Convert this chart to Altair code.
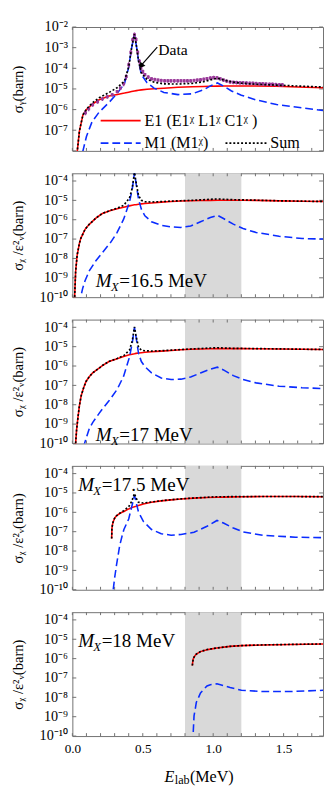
import altair as alt
import pandas as pd

# ---------------- data ----------------
X_DOMAIN = [0.0, 1.78]
X_LABELS = [0.0, 0.5, 1.0, 1.5]
X_TICKS = [0.0, 0.1, 0.2, 0.3, 0.4, 0.5, 0.6, 0.7, 0.8, 0.9, 1.0, 1.1, 1.2, 1.3, 1.4, 1.5, 1.6, 1.7]
BAND_LO, BAND_HI = 0.8, 1.2

# panel 1 : sigma_gamma
P1_E = [0.02, 0.035, 0.05, 0.075, 0.1, 0.14, 0.19, 0.26, 0.32, 0.37, 0.40, 0.42, 0.44, 0.455, 0.47, 0.49,
        0.53, 0.58, 0.65, 0.75, 0.85, 0.93, 0.98, 1.03, 1.08, 1.13, 1.2, 1.3, 1.45, 1.6, 1.78]
P1_E1 = [1e-10, 1e-8, 9e-8, 5.5e-7, 1.0e-6, 1.8e-6, 3.0e-6, 4.5e-6, 5.4e-6, 6.3e-6, 7e-6, 7.5e-6, 8e-6, 8.3e-6,
         8.6e-6, 9e-6, 9.6e-6, 1.02e-5, 1.08e-5, 1.2e-5, 1.28e-5, 1.32e-5, 1.35e-5, 1.37e-5, 1.38e-5, 1.4e-5,
         1.4e-5, 1.4e-5, 1.35e-5, 1.25e-5, 1.15e-5]
P1_M1 = [1e-12, 1e-11, 1e-10, 1e-8, 5e-8, 2.6e-7, 7.5e-7, 2.2e-6, 6.3e-6, 1.8e-5, 1.1e-4, 9e-4, 4.5e-3, 1.2e-3,
         2.2e-4, 5e-5, 2e-5, 1.1e-5, 6.8e-6, 5.3e-6, 5.8e-6, 9e-6, 1.4e-5, 1.95e-5, 1.3e-5, 8e-6, 5e-6, 3.0e-6,
         1.75e-6, 1.3e-6, 9e-7]
P1_SUM = [1e-10, 1e-8, 9e-8, 5.6e-7, 1.05e-6, 2.06e-6, 3.75e-6, 6.7e-6, 1.17e-5, 2.43e-5, 1.17e-4, 9.1e-4,
          4.5e-3, 1.21e-3, 2.29e-4, 5.9e-5, 2.96e-5, 2.12e-5, 1.76e-5, 1.73e-5, 1.86e-5, 2.22e-5, 2.75e-5,
          3.32e-5, 2.68e-5, 2.2e-5, 1.9e-5, 1.7e-5, 1.53e-5, 1.38e-5, 1.24e-5]

DATA_E = [0.093, 0.116, 0.144, 0.179, 0.213, 0.248, 0.283, 0.318, 0.341, 0.364, 0.383, 0.40, 0.415, 0.428,
          0.441, 0.452, 0.464, 0.476, 0.487, 0.50, 0.515, 0.539, 0.562, 0.585, 0.608, 0.631, 0.655, 0.678, 0.70,
          0.724, 0.748, 0.771, 0.794, 0.817, 0.84, 0.864, 0.887, 0.91, 0.933, 0.956, 0.98, 1.003, 1.027, 1.05,
          1.073, 1.096, 1.12, 1.143, 1.166, 1.19, 1.212, 1.236, 1.26, 1.282, 1.305, 1.33, 1.352, 1.375, 1.40,
          1.421, 1.445, 1.47, 1.491]
DATA_V = [7e-7, 1.1e-6, 1.7e-6, 2.4e-6, 3.3e-6, 4.2e-6, 5.3e-6, 7.5e-6, 1.1e-5, 1.8e-5, 4e-5, 1.5e-4, 6e-4,
          2.4e-3, 4.2e-3, 2.5e-3, 6e-4, 2.2e-4, 1.1e-4, 7e-5, 5e-5, 3.8e-5, 3.1e-5, 2.9e-5, 2.7e-5, 2.6e-5,
          2.5e-5, 2.5e-5, 2.5e-5, 2.5e-5, 2.5e-5, 2.5e-5, 2.5e-5, 2.5e-5, 2.5e-5, 2.6e-5, 2.7e-5, 2.8e-5, 3e-5,
          3.2e-5, 3.4e-5, 3.6e-5, 3.5e-5, 3.1e-5, 2.7e-5, 2.4e-5, 2.2e-5, 2.1e-5, 2.05e-5, 2e-5, 2e-5, 1.95e-5,
          1.9e-5, 1.9e-5, 1.85e-5, 1.8e-5, 1.8e-5, 1.75e-5, 1.7e-5, 1.7e-5, 1.65e-5, 1.6e-5, 1.6e-5]
DATA_ERR = [0.25, 0.25, 0.2, 0.2, 0.2, 0.2, 0.2, 0.2, 0.2, 0.25, 0.3, 0.3, 0.3, 0.3, 0.3, 0.3, 0.3, 0.3, 0.3,
            0.25, 0.2, 0.2, 0.2, 0.2, 0.2, 0.2, 0.2, 0.2, 0.2, 0.2, 0.2, 0.2, 0.2, 0.2, 0.2, 0.2, 0.2, 0.2, 0.2,
            0.2, 0.2, 0.2, 0.2, 0.2, 0.2, 0.2, 0.2, 0.2, 0.2, 0.2, 0.2, 0.2, 0.2, 0.2, 0.2, 0.2, 0.2, 0.2, 0.2,
            0.2, 0.2, 0.2, 0.2]

# panel 2 : M_X = 16.5 MeV
P2_E = [0.01, 0.016, 0.023, 0.034, 0.05, 0.06, 0.074, 0.09, 0.12, 0.167, 0.213, 0.272, 0.318, 0.364, 0.405,
        0.425, 0.441, 0.452, 0.47, 0.49, 0.515, 0.562, 0.631, 0.701, 0.771, 0.84, 0.91, 0.98, 1.03, 1.073,
        1.143, 1.212, 1.305, 1.468, 1.631, 1.78]
P2_E1 = [1e-12, 1e-10, 2e-9, 1.5e-8, 6e-8, 1.1e-7, 1.8e-7, 3.2e-7, 5.8e-7, 1.2e-6, 2.1e-6, 3.0e-6, 3.7e-6,
         4.4e-6, 5.2e-6, 5.6e-6, 5.9e-6, 6.0e-6, 6.3e-6, 6.6e-6, 6.9e-6, 7.4e-6, 8.1e-6, 8.7e-6, 9.2e-6, 9.5e-6,
         9.8e-6, 1.0e-5, 1.02e-5, 1.02e-5, 1.02e-5, 1.02e-5, 1.0e-5, 9.4e-6, 9e-6, 8.7e-6]
P2_M1 = [1e-14, 1e-13, 1e-12, 1e-11, 3e-11, 1.1e-10, 3e-10, 7e-10, 2.3e-9, 7.6e-9, 2e-8, 6.8e-8, 2.2e-7, 1.07e-6,
         7.8e-6, 3.7e-5, 2.7e-4, 8e-5, 1.15e-5, 3.5e-6, 1.6e-6, 7.8e-7, 5.2e-7, 4.3e-7, 4.0e-7, 4.8e-7, 7.8e-7,
         1.3e-6, 1.7e-6, 1.15e-6, 5.9e-7, 3.5e-7, 2.2e-7, 1.4e-7, 1.07e-7, 1e-7]
P2_SUM = [1e-12, 1e-10, 2e-9, 1.5e-8, 6e-8, 1.1e-7, 1.8e-7, 3.2e-7, 5.8e-7, 1.21e-6, 2.12e-6, 3.07e-6, 3.92e-6,
          5.47e-6, 1.3e-5, 4.26e-5, 2.76e-4, 8.6e-5, 1.78e-5, 1.01e-5, 8.5e-6, 8.18e-6, 8.62e-6, 9.13e-6, 9.6e-6,
          9.98e-6, 1.06e-5, 1.13e-5, 1.19e-5, 1.14e-5, 1.08e-5, 1.06e-5, 1.02e-5, 9.54e-6, 9.1e-6, 8.8e-6]

# panel 3 : M_X = 17 MeV
P3_E = [0.015, 0.023, 0.03, 0.039, 0.05, 0.062, 0.08, 0.097, 0.12, 0.144, 0.19, 0.213, 0.26, 0.318, 0.364,
        0.405, 0.425, 0.441, 0.452, 0.47, 0.49, 0.515, 0.562, 0.631, 0.701, 0.771, 0.84, 0.91, 0.98, 1.03, 1.073,
        1.143, 1.212, 1.305, 1.468, 1.631, 1.78]
P3_E1 = [1e-12, 1e-10, 5e-10, 2e-9, 9e-9, 2.8e-8, 7.5e-8, 1.6e-7, 2.8e-7, 4.4e-7, 7.8e-7, 1.05e-6, 1.7e-6, 2.4e-6,
         3.1e-6, 3.8e-6, 4.1e-6, 4.3e-6, 4.5e-6, 4.7e-6, 4.9e-6, 5.2e-6, 5.5e-6, 5.9e-6, 6.4e-6, 6.9e-6, 7.3e-6,
         7.6e-6, 7.8e-6, 7.9e-6, 7.9e-6, 7.9e-6, 7.9e-6, 7.8e-6, 7.6e-6, 7.3e-6, 7.1e-6]
P3_M1 = [1e-15, 1e-14, 1e-13, 1e-12, 1e-11, 3e-11, 7e-11, 1.8e-10, 5.8e-10, 1.2e-9, 3.6e-9, 6e-9, 1.6e-8, 6.2e-8,
         3e-7, 2.8e-6, 1.5e-5, 1e-4, 3.2e-5, 4.5e-6, 1.7e-6, 9.3e-7, 4.4e-7, 2.4e-7, 2e-7, 2.1e-7, 2.7e-7, 4.4e-7,
         6.9e-7, 8.7e-7, 6.3e-7, 3.2e-7, 2e-7, 1.35e-7, 9.1e-8, 7.6e-8, 6.9e-8]
P3_SUM = [1e-12, 1e-10, 5e-10, 2e-9, 9e-9, 2.8e-8, 7.5e-8, 1.6e-7, 2.8e-7, 4.4e-7, 7.8e-7, 1.06e-6, 1.72e-6,
          2.46e-6, 3.4e-6, 6.6e-6, 1.91e-5, 1.04e-4, 3.65e-5, 9.2e-6, 6.6e-6, 6.13e-6, 5.94e-6, 6.14e-6, 6.6e-6,
          7.11e-6, 7.57e-6, 8.04e-6, 8.49e-6, 8.77e-6, 8.53e-6, 8.22e-6, 8.1e-6, 7.94e-6, 7.69e-6, 7.38e-6, 7.17e-6]

# panel 4 : M_X = 17.5 MeV
P4_E = [0.279, 0.281, 0.285, 0.29, 0.3, 0.313, 0.336, 0.353, 0.366, 0.4, 0.422, 0.441, 0.452, 0.469, 0.504,
        0.562, 0.631, 0.701, 0.771, 0.864, 0.956, 1.027, 1.073, 1.143, 1.212, 1.352, 1.584, 1.78]
P4_E1 = [4.4e-8, 1.5e-7, 2.3e-7, 3.3e-7, 5e-7, 6.6e-7, 8.7e-7, 1.0e-6, 1.1e-6, 1.5e-6, 1.75e-6, 1.95e-6, 2.05e-6,
         2.25e-6, 2.7e-6, 3.3e-6, 3.9e-6, 4.4e-6, 4.9e-6, 5.4e-6, 5.8e-6, 6.0e-6, 6.1e-6, 6.3e-6, 6.4e-6, 6.5e-6,
         6.5e-6, 6.4e-6]
P4_M1 = [1e-13, 1e-12, 1e-11, 1e-10, 4e-10, 1.8e-9, 1.9e-8, 6e-8, 1.3e-7, 4.5e-7, 2e-6, 7.4e-6, 3.5e-6, 1.07e-6,
         3.4e-7, 1.3e-7, 7.8e-8, 6.6e-8, 7.2e-8, 9.3e-8, 1.9e-7, 3.8e-7, 2.8e-7, 1.55e-7, 9.8e-8, 6.5e-8, 5.2e-8,
         4.9e-8]
P4_SUM = [4.4e-8, 1.5e-7, 2.3e-7, 3.3e-7, 5e-7, 6.6e-7, 8.9e-7, 1.06e-6, 1.23e-6, 1.95e-6, 3.75e-6, 9.35e-6,
          5.55e-6, 3.32e-6, 3.04e-6, 3.43e-6, 3.98e-6, 4.47e-6, 4.97e-6, 5.49e-6, 5.99e-6, 6.38e-6, 6.38e-6,
          6.46e-6, 6.5e-6, 6.57e-6, 6.55e-6, 6.45e-6]

# panel 5 : M_X = 18 MeV
P5_E = [0.852, 0.855, 0.859, 0.864, 0.876, 0.88, 0.91, 0.956, 0.98, 1.027, 1.12, 1.2, 1.352, 1.55, 1.78]
P5_E1 = [4.4e-7, 7e-7, 1.0e-6, 1.2e-6, 1.6e-6, 1.7e-6, 2.3e-6, 2.9e-6, 3.1e-6, 3.5e-6, 4.3e-6, 4.7e-6, 5.1e-6,
         5.4e-6, 5.7e-6]
P5_M1 = [1e-11, 4e-11, 2e-10, 1.1e-9, 3.5e-9, 5.4e-9, 1.7e-8, 3.9e-8, 4.5e-8, 5e-8, 3.2e-8, 2.3e-8, 2e-8, 2e-8,
         2.3e-8]
P5_SUM = [4.4e-7, 7e-7, 1.0e-6, 1.2e-6, 1.6e-6, 1.71e-6, 2.32e-6, 2.94e-6, 3.15e-6, 3.55e-6, 4.33e-6, 4.72e-6,
          5.12e-6, 5.42e-6, 5.72e-6]

# ---------------- style ----------------
FONT = "Liberation Serif"
RED = "#ff0000"
BLUE = "#0a2cff"
BLACK = "#000000"
PURPLE = "#9a3a9a"
BANDC = "#d9d9d9"
FRAME = "#707070"
W = 257
H = 127
DASH = [8, 4]
DOT = [2, 2]
SUP = str.maketrans("-0123456789", "⁻⁰¹²³⁴⁵⁶⁷⁸⁹")
TITLE2 = "σᵪ /ε²ᵥ(barn)"


def label_expr(exps):
    parts = [f"round(log(datum.value)/LN10) == {e} ? '10{str(e).translate(SUP)}' :" for e in exps]
    return " ".join(parts) + " ''"


def xenc(bottom):
    ax = None
    if bottom:
        ax = alt.Axis(values=X_LABELS, format=".1f", ticks=False, domain=False, grid=False, labelFont=FONT,
                      labelFontSize=13.5, labelColor="black", labelPadding=6, labelFlush=False, title=None)
    return alt.X("E:Q", scale=alt.Scale(domain=X_DOMAIN, nice=False, zero=False), axis=ax)


def yenc(dom, exps, title):
    return alt.Y("v:Q", scale=alt.Scale(type="log", domain=dom, nice=False),
                 axis=alt.Axis(values=[10.0 ** e for e in exps], labelExpr=label_expr(exps), ticks=False,
                               domain=False, grid=False, labelFont=FONT, labelFontSize=14.5, labelColor="black",
                               labelPadding=5, labelOverlap=False, title=title, titleFont=FONT, titleFontSize=15,
                               titleFontWeight="normal", titleColor="black", titlePadding=4, minExtent=44,
                               maxExtent=44))


def txt(s, x, y, size, italic=False, baseline="alphabetic", align="left"):
    return alt.Chart(pd.DataFrame({"t": [s]})).mark_text(
        align=align, baseline=baseline, font=FONT, fontSize=size, fontStyle="italic" if italic else "normal",
        color="black").encode(text="t:N", x=alt.value(x), y=alt.value(y))


def curve(E, v, color, width, dash, x, y):
    kw = dict(color=color, strokeWidth=width, clip=True)
    if dash:
        kw["strokeDash"] = dash
    return alt.Chart(pd.DataFrame({"E": E, "v": v})).mark_line(**kw).encode(x=x, y=y)


def frame_ticks(x, y, exps):
    xt = pd.DataFrame({"E": X_TICKS})
    yt = pd.DataFrame({"v": [10.0 ** e for e in exps]})
    r = dict(color=FRAME, strokeWidth=1)
    return [
        alt.Chart(xt).mark_rule(**r).encode(x=x, y=alt.value(0), y2=alt.value(3)),
        alt.Chart(xt).mark_rule(**r).encode(x=x, y=alt.value(H), y2=alt.value(H - 3)),
        alt.Chart(yt).mark_rule(**r).encode(y=y, x=alt.value(0), x2=alt.value(4)),
        alt.Chart(yt).mark_rule(**r).encode(y=y, x=alt.value(W), x2=alt.value(W - 4)),
    ]


def mx_label(x0, yc, rest):
    yb = yc + 6.5
    return [txt("M", x0, yb, 19.5, italic=True), txt("X", x0 + 15.5, yb + 4, 13, italic=True),
            txt(rest, x0 + 24, yb, 19.5)]


def model_panel(E, e1, m1, sm, label_layers, bottom=False):
    x = xenc(bottom)
    y = yenc([1e-10, 2.5e-4], [-4, -5, -6, -7, -8, -9, -10], TITLE2)
    band = alt.Chart(pd.DataFrame({"E": [BAND_LO], "E2": [BAND_HI]})).mark_rect(color=BANDC).encode(
        x=x, x2="E2:Q", y=alt.value(0), y2=alt.value(H))
    layers = [band] + frame_ticks(x, y, [-4, -5, -6, -7, -8, -9, -10]) + [
        curve(E, e1, RED, 1.6, None, x, y),
        curve(E, m1, BLUE, 1.6, DASH, x, y),
        curve(E, sm, BLACK, 1.7, DOT, x, y),
    ] + label_layers
    if bottom:
        yb = H + 47
        layers += [txt("E", 94.5, yb, 16.5, italic=True), txt("lab", 105, yb + 2.5, 12.5),
                   txt("(MeV)", 120.5, yb, 16.5)]
    return alt.layer(*layers).properties(width=W, height=H)


# ---------------- panel 1 ----------------
x1 = xenc(False)
y1 = yenc([1e-8, 1e-2], [-2, -3, -4, -5, -6, -7], "σᵧ(barn)")
data_df = pd.DataFrame({"E": DATA_E, "v": DATA_V})
err_df = pd.DataFrame({"E": DATA_E, "v": [v * (1 - e) for v, e in zip(DATA_V, DATA_ERR)],
                       "v2": [v * (1 + e) for v, e in zip(DATA_V, DATA_ERR)]})
errbars = alt.Chart(err_df).mark_rule(color=PURPLE, strokeWidth=1.4, clip=True).encode(x=x1, y=y1, y2="v2:Q")
points = alt.Chart(data_df).mark_point(shape="square", filled=True, size=9, color=PURPLE, opacity=1,
                                       clip=True).encode(x=x1, y=y1)
arrow_line = alt.Chart(pd.DataFrame({"E": [0.603, 0.492], "v": [1.07e-3, 1.45e-4]})).mark_line(
    color=BLACK, strokeWidth=1.2).encode(x=x1, y=y1)
arrow_head = alt.Chart(pd.DataFrame({"E": [0.488], "v": [1.3e-4]})).mark_point(
    shape="triangle-up", filled=True, size=45, angle=219, color=BLACK, opacity=1).encode(x=x1, y=y1)
data_lbl = alt.Chart(pd.DataFrame({"E": [0.61], "v": [7.5e-4], "t": ["Data"]})).mark_text(
    align="left", baseline="middle", font=FONT, fontSize=16, color="black").encode(x=x1, y=y1, text="t:N")

legend = [
    alt.Chart(pd.DataFrame({"a": [0]})).mark_rule(color=RED, strokeWidth=1.8).encode(
        x=alt.value(29), x2=alt.value(70), y=alt.value(96)),
    txt("E1 (E1ᵡ L1ᵡ C1ᵡ )", 74, 101.5, 16.5),
    alt.Chart(pd.DataFrame({"a": [0]})).mark_rule(color=BLUE, strokeWidth=1.8, strokeDash=DASH).encode(
        x=alt.value(29), x2=alt.value(70), y=alt.value(119)),
    txt("M1 (M1ᵡ)", 74, 124.5, 16.5),
    alt.Chart(pd.DataFrame({"a": [0]})).mark_rule(color=BLACK, strokeWidth=1.8, strokeDash=DOT).encode(
        x=alt.value(157), x2=alt.value(199), y=alt.value(119)),
    txt("Sum", 203, 124.5, 16.5),
]

p1 = alt.layer(
    *frame_ticks(x1, y1, [-2, -3, -4, -5, -6, -7, -8]),
    curve(P1_E, P1_E1, RED, 1.6, None, x1, y1),
    curve(P1_E, P1_M1, BLUE, 1.6, DASH, x1, y1),
    errbars, points,
    curve(P1_E, P1_SUM, BLACK, 1.7, DOT, x1, y1),
    arrow_line, arrow_head, data_lbl,
    *legend,
).properties(width=W, height=H)

p2 = model_panel(P2_E, P2_E1, P2_M1, P2_SUM, mx_label(24, 110, "=16.5 MeV"))
p3 = model_panel(P3_E, P3_E1, P3_M1, P3_SUM, mx_label(24, 118, "=17 MeV"))
p4 = model_panel(P4_E, P4_E1, P4_M1, P4_SUM, mx_label(6, 19, "=17.5 MeV"))
p5 = model_panel(P5_E, P5_E1, P5_M1, P5_SUM, mx_label(6, 29, "=18 MeV"), bottom=True)

chart = alt.vconcat(p1, p2, p3, p4, p5, spacing=23, bounds="flush").resolve_scale(
    x="independent", y="independent").properties(
    padding={"left": 2, "top": 0, "right": 0, "bottom": 40}, background="white").configure_view(
    stroke=FRAME, strokeWidth=1)

chart.save("out.html", embed_options={"renderer": "svg", "actions": False})
